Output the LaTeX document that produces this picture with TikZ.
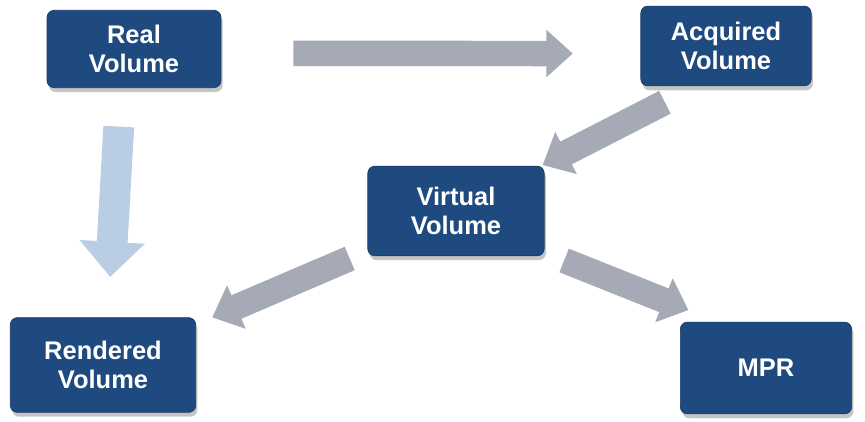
\documentclass[tikz,border=0pt]{standalone}
\usepackage{fontspec}
\setmainfont{Liberation Sans}
\usetikzlibrary{arrows.meta,shadows}
\definecolor{boxblue}{HTML}{1F4A80}
\definecolor{arrowgray}{HTML}{A5AAB6}
\definecolor{arrowblue}{HTML}{B9CDE5}
\tikzset{
  volbox/.style={draw=boxblue!80!black,fill=boxblue,rounded corners=4pt,text=white,
    font=\bfseries\fontsize{14.5}{16.5}\selectfont,align=center,inner sep=0pt,
    drop shadow={shadow xshift=1pt,shadow yshift=-2.5pt,fill=black!45}},
  grayarrow/.style={draw=arrowgray,line width=14.5pt,-{Triangle[width=26pt,length=15pt]}},
  bluearrow/.style={draw=arrowblue,line width=17.5pt,-{Triangle[width=36pt,length=20pt]}}
}
\begin{document}
\begin{tikzpicture}[x=0.02cm,y=-0.02cm]
\useasboundingbox (0,0) rectangle (865,422);
% Kaesten
\node[volbox,minimum width=99pt,minimum height=44pt] (real) at (134,49) {Real\\Volume};
\node[volbox,minimum width=97pt,minimum height=45.4pt] (acquired) at (726,46) {Acquired\\Volume};
\node[volbox,minimum width=100.4pt,minimum height=51pt] (virtual) at (456,211) {Virtual\\Volume};
\node[volbox,minimum width=105.5pt,minimum height=53.9pt] (rendered) at (103,365) {Rendered\\Volume};
\node[volbox,minimum width=97.5pt,minimum height=52.2pt] (mpr) at (766,368) {MPR};

% Pfeile
\draw[grayarrow,shorten <=41pt,shorten >=38.5pt] ([yshift=-2.5pt]real.east) -- ([yshift=-4.3pt]acquired.west);
\draw[bluearrow,shorten <=22pt,shorten >=23pt] ([xshift=-7.4pt]real.south) -- ([xshift=2.8pt]rendered.north);
\draw[grayarrow,shorten <=20pt,shorten >=1pt] ([xshift=-17pt]acquired.south) -- ([xshift=-2pt]virtual.north east);
\draw[grayarrow,shorten <=11pt,shorten >=10pt] ([yshift=3pt]virtual.south west) -- ([yshift=-4pt]rendered.north east);
\draw[grayarrow,shorten <=12pt,shorten >=18pt] ([yshift=2pt]virtual.south east) -- ([xshift=21.5pt]mpr.north west);
\end{tikzpicture}
\end{document}
